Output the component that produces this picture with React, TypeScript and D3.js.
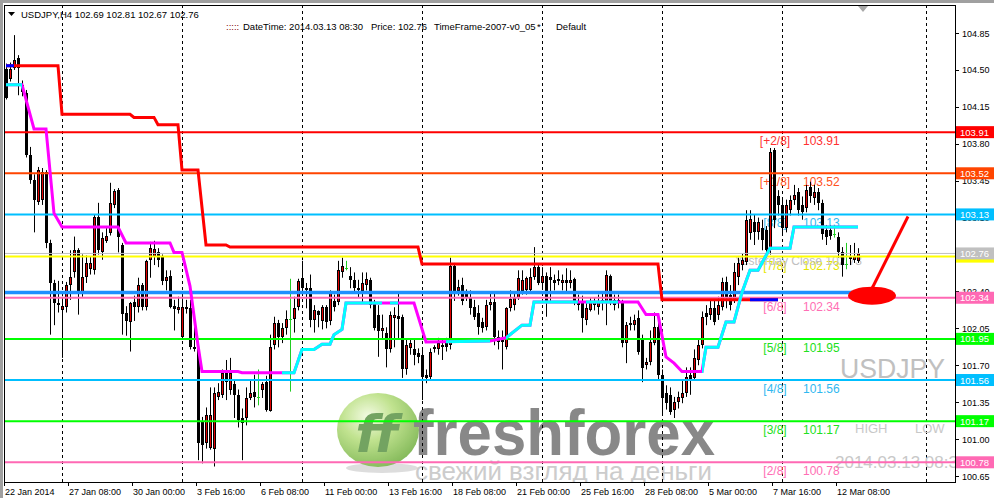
import React from 'react';
import * as d3 from 'd3';

// USDJPY H4, one row per bar: open, high, low, close
const candles: [number, number, number, number][] = [
  [104.51, 104.56, 104.22, 104.23], [104.41, 104.57, 104.39, 104.51], [104.52, 104.83, 104.5, 104.59], [104.61, 104.64, 104.26, 104.52],
  [104.36, 104.4, 104.25, 104.29], [104.28, 104.31, 103.67, 103.69], [103.69, 103.77, 103.42, 103.46], [103.46, 103.51, 102.96, 103.27],
  [103.25, 103.58, 103.22, 103.55], [103.27, 103.57, 103.22, 103.53], [103.53, 103.55, 102.81, 102.86], [102.86, 102.89, 101.99, 102.48],
  [102.48, 102.51, 102.08, 102.29], [102.29, 102.5, 102.2, 102.27], [102.22, 102.35, 101.77, 102.26], [102.25, 102.49, 102.2, 102.46],
  [102.46, 102.79, 102.32, 102.54], [102.58, 102.92, 102.53, 102.79], [102.79, 102.81, 102.18, 102.39], [102.39, 102.75, 102.35, 102.54],
  [102.54, 102.74, 102.48, 102.67], [102.61, 102.73, 102.56, 102.67], [102.6, 103.13, 102.56, 103.11], [103.11, 103.24, 102.75, 102.79],
  [102.77, 102.96, 102.7, 102.91], [102.88, 103.0, 102.86, 102.93], [102.95, 103.43, 102.93, 103.24], [103.22, 103.37, 103.19, 103.35],
  [103.36, 103.38, 102.77, 102.92], [102.84, 102.86, 101.99, 102.19], [102.2, 102.26, 101.98, 102.12], [102.11, 102.3, 101.83, 102.29],
  [102.3, 102.36, 102.12, 102.25], [102.25, 102.53, 102.2, 102.46], [102.46, 102.48, 102.22, 102.25], [102.25, 102.7, 102.22, 102.69],
  [102.7, 102.87, 102.53, 102.81], [102.73, 102.88, 102.65, 102.8], [102.77, 102.81, 102.63, 102.7], [102.73, 102.75, 102.46, 102.5],
  [102.5, 102.6, 102.41, 102.54], [102.55, 102.6, 102.24, 102.25], [102.26, 102.32, 102.03, 102.23], [102.22, 102.35, 102.19, 102.25],
  [101.97, 102.39, 101.94, 102.25], [102.23, 102.32, 102.19, 102.25], [102.24, 102.32, 101.85, 101.87], [101.87, 102.13, 101.83, 101.85],
  [101.85, 101.89, 100.8, 100.96], [101.16, 101.21, 100.77, 100.94], [100.96, 101.3, 100.91, 101.23], [100.92, 101.49, 100.9, 101.23],
  [100.91, 101.49, 100.74, 101.44], [101.4, 101.53, 101.37, 101.45], [101.42, 101.66, 101.39, 101.63], [101.63, 101.75, 101.37, 101.54],
  [101.47, 101.77, 101.42, 101.63], [101.52, 101.56, 101.2, 101.42], [101.42, 101.47, 101.11, 101.18], [101.2, 101.29, 100.8, 101.15],
  [101.2, 101.49, 101.13, 101.39], [101.39, 101.56, 101.37, 101.44], [101.45, 101.61, 101.3, 101.4], [101.4, 101.66, 101.32, 101.4],
  [101.47, 101.54, 101.39, 101.52], [101.54, 101.6, 101.26, 101.28], [101.27, 101.99, 101.26, 101.87], [101.89, 102.16, 101.85, 102.1],
  [102.1, 102.13, 101.87, 101.97], [101.97, 102.1, 101.91, 102.05], [102.05, 102.22, 101.99, 102.14], [102.14, 102.52, 101.45, 102.14],
  [102.14, 102.35, 102.01, 102.24], [102.25, 102.52, 102.22, 102.5], [102.53, 102.69, 102.36, 102.43], [102.43, 102.48, 102.24, 102.41],
  [102.43, 102.56, 102.06, 102.13], [102.13, 102.27, 102.01, 102.22], [102.21, 102.22, 102.06, 102.18], [102.12, 102.27, 102.04, 102.25],
  [102.25, 102.27, 102.05, 102.11], [102.12, 102.41, 102.08, 102.39], [102.31, 102.37, 102.21, 102.25], [102.3, 102.69, 102.27, 102.6],
  [102.58, 102.72, 102.53, 102.64], [102.62, 102.69, 102.6, 102.62], [102.55, 102.63, 102.43, 102.51], [102.51, 102.58, 102.39, 102.43],
  [102.43, 102.51, 102.34, 102.41], [102.4, 102.58, 102.29, 102.48], [102.46, 102.58, 102.41, 102.52], [102.51, 102.53, 102.24, 102.27],
  [102.29, 102.32, 102.03, 102.05], [102.18, 102.27, 101.78, 102.02], [102.02, 102.18, 101.94, 102.05], [102.01, 102.06, 101.68, 101.85],
  [101.85, 102.21, 101.82, 102.18], [102.15, 102.25, 101.87, 102.18], [102.17, 102.4, 101.94, 102.14], [102.16, 102.18, 101.58, 101.66],
  [101.66, 101.94, 101.61, 101.89], [101.86, 101.94, 101.8, 101.91], [101.85, 101.94, 101.7, 101.8], [101.82, 101.86, 101.72, 101.78],
  [101.8, 101.85, 101.37, 101.59], [101.61, 101.66, 101.53, 101.58], [101.59, 101.86, 101.56, 101.83], [101.85, 101.89, 101.82, 101.87],
  [101.85, 101.96, 101.8, 101.91], [101.89, 101.94, 101.75, 101.87], [101.91, 101.96, 101.83, 101.87], [101.89, 102.72, 101.85, 102.64],
  [102.64, 102.67, 102.31, 102.38], [102.4, 102.51, 102.36, 102.44], [102.46, 102.53, 102.27, 102.31], [102.39, 102.42, 102.31, 102.34],
  [102.34, 102.41, 102.18, 102.24], [102.25, 102.32, 102.13, 102.16], [102.2, 102.27, 101.99, 102.06], [102.11, 102.15, 102.01, 102.05],
  [102.06, 102.32, 102.03, 102.27], [102.27, 102.39, 102.22, 102.3], [102.3, 102.39, 101.89, 101.97], [101.97, 102.03, 101.85, 101.92],
  [101.95, 102.03, 101.66, 101.92], [101.87, 102.25, 101.85, 102.24], [102.24, 102.41, 102.21, 102.33], [102.27, 102.38, 102.22, 102.34],
  [102.34, 102.6, 102.32, 102.53], [102.4, 102.6, 102.37, 102.51], [102.41, 102.54, 102.37, 102.53], [102.41, 102.62, 102.39, 102.54],
  [102.54, 102.82, 102.51, 102.63], [102.63, 102.65, 102.46, 102.48], [102.48, 102.63, 102.43, 102.55], [102.55, 102.58, 102.16, 102.3],
  [102.54, 102.63, 102.3, 102.51], [102.51, 102.56, 102.41, 102.48], [102.52, 102.6, 102.46, 102.5], [102.48, 102.56, 102.41, 102.51],
  [102.51, 102.62, 102.39, 102.48], [102.48, 102.6, 102.43, 102.51], [102.52, 102.53, 102.27, 102.3], [102.3, 102.37, 102.22, 102.27],
  [102.3, 102.36, 102.01, 102.15], [102.13, 102.29, 102.08, 102.24], [102.22, 102.34, 102.21, 102.3], [102.27, 102.34, 102.22, 102.3],
  [102.25, 102.37, 102.18, 102.3], [102.32, 102.39, 102.22, 102.29], [102.3, 102.6, 102.08, 102.56], [102.55, 102.56, 102.27, 102.3],
  [102.32, 102.37, 102.22, 102.27], [102.32, 102.37, 102.24, 102.29], [102.3, 102.32, 101.87, 101.91], [101.91, 102.11, 101.72, 102.08],
  [102.1, 102.16, 102.03, 102.08], [102.08, 102.18, 102.03, 102.13], [102.15, 102.22, 101.8, 101.83], [101.94, 101.99, 101.54, 101.67],
  [101.7, 101.77, 101.66, 101.73], [101.73, 102.03, 101.7, 101.92], [101.91, 102.2, 101.89, 102.06], [102.06, 102.15, 101.56, 101.61],
  [101.61, 101.66, 101.23, 101.39], [101.44, 101.51, 101.28, 101.34], [101.42, 101.49, 101.23, 101.26], [101.28, 101.4, 101.2, 101.35],
  [101.35, 101.45, 101.29, 101.4], [101.39, 101.56, 101.34, 101.44], [101.44, 101.68, 101.4, 101.59], [101.61, 101.68, 101.42, 101.56],
  [101.58, 101.85, 101.56, 101.77], [101.75, 101.94, 101.7, 101.89], [101.89, 102.21, 101.86, 102.16], [102.2, 102.27, 102.08, 102.16],
  [102.18, 102.32, 102.13, 102.24], [102.24, 102.32, 102.08, 102.11], [102.18, 102.35, 102.13, 102.27], [102.25, 102.53, 102.22, 102.49],
  [102.49, 102.54, 102.24, 102.35], [102.37, 102.46, 102.22, 102.27], [102.32, 102.67, 102.29, 102.58], [102.54, 102.72, 102.46, 102.67],
  [102.65, 102.76, 102.6, 102.7], [102.68, 103.17, 102.65, 103.08], [102.95, 103.17, 102.89, 103.09], [103.06, 103.13, 102.84, 102.96],
  [102.96, 103.1, 102.89, 103.06], [103.0, 103.08, 102.79, 102.89], [102.98, 103.02, 102.72, 102.79], [102.79, 103.76, 102.75, 103.72],
  [103.74, 103.76, 103.0, 103.08], [103.3, 103.36, 103.12, 103.22], [103.22, 103.27, 102.94, 103.0], [103.0, 103.27, 102.96, 103.22],
  [103.17, 103.31, 103.12, 103.27], [103.27, 103.41, 103.22, 103.31], [103.34, 103.38, 103.12, 103.17], [103.22, 103.3, 103.08, 103.15],
  [103.19, 103.41, 103.15, 103.36], [103.39, 103.44, 103.24, 103.3], [103.29, 103.41, 103.22, 103.34], [103.34, 103.38, 103.17, 103.24],
  [103.24, 103.27, 102.89, 102.94], [102.98, 103.03, 102.84, 102.92], [102.98, 103.03, 102.89, 102.93], [102.94, 103.03, 102.91, 102.94],
  [102.92, 102.96, 102.72, 102.77], [102.77, 102.82, 102.54, 102.65], [102.66, 102.86, 102.61, 102.66], [102.74, 102.84, 102.65, 102.71],
  [102.7, 102.86, 102.67, 102.74], [102.69, 102.81, 102.67, 102.76],
];

const timeLabels = [
  '22 Jan 2014', '27 Jan 08:00', '30 Jan 00:00', '3 Feb 16:00', '6 Feb 08:00', '11 Feb 00:00', '13 Feb 16:00',
  '18 Feb 08:00', '21 Feb 00:00', '25 Feb 16:00', '28 Feb 08:00', '5 Mar 00:00', '7 Mar 16:00', '12 Mar 08:00',
];
const barsPerLabel = 16;
const priceTicks = [104.85, 104.5, 104.15, 103.8, 103.45, 103.1, 102.75, 102.4, 102.05, 101.7, 101.35, 101.0, 100.65];
const hiddenTicks = [102.75]; // covered by the bid label
const gridBars = [14, 44, 74, 104, 134, 164, 194, 230];

// Murrey math levels
const levelTags = ['[+2/8]', '[+1/8]', '[8/8]', '[7/8]', '[6/8]', '[5/8]', '[4/8]', '[3/8]', '[2/8]'];
const levelValues = [103.91, 103.52, 103.13, 102.73, 102.34, 101.95, 101.56, 101.17, 100.78];
const levelColors = ['#FF0000', '#FF4500', '#00BFFF', '#FFFF00', '#FF69B4', '#00FF00', '#00BFFF', '#00FF00', '#FF69B4'];
const levelTextColors = ['#FF3030', '#FF5020', '#30B8F0', '#E6E600', '#FF6EB4', '#20E020', '#30B8F0', '#20E020', '#FF6EB4'];

const bidPrice = 102.76;
const pivotPrice = 102.39;
const yesterdayClose = 102.73;

const axisBoxValues = [103.91, 103.52, 103.13, 102.73, 102.76, 102.34, 101.95, 101.56, 101.17, 100.78];
const axisBoxColors = ['#FF0000', '#FF4500', '#00BFFF', '#FFFF00', '#C0C0C0', '#FF69B4', '#00FF00', '#00BFFF', '#00FF00', '#FF69B4'];
const axisBoxText = [true, true, true, false, true, true, true, true, true, true];

// trailing step lines: [bar, price]
const upperLine: [number, number][] = [
  [0, 104.54], [13, 104.54], [14, 104.08], [31, 104.08], [32, 104.05], [37, 104.05], [38, 103.98], [43, 103.98],
  [44, 103.55], [48, 103.55], [50, 102.84], [55, 102.84], [56, 102.82], [103, 102.82], [104, 102.66], [163, 102.66],
  [164, 102.32], [193, 102.32],
];
const upperBlue: [number, number][] = [[0, 2], [186, 193]];

const lowerLine: [number, number][] = [
  [0, 104.36], [4, 104.36], [7, 103.94], [10, 103.94], [12, 103.14], [14, 103.01], [28, 103.01], [30, 102.86],
  [41, 102.86], [42, 102.77], [44, 102.77], [46, 102.45], [48, 101.89], [49, 101.64], [58, 101.64], [59, 101.63],
  [72, 101.63], [74, 101.85], [77, 101.85], [79, 101.9], [81, 101.9], [82, 101.99], [84, 102.04], [85, 102.29],
  [102, 102.29], [105, 101.92], [121, 101.93], [125, 101.96], [129, 102.08], [131, 102.08], [132, 102.3],
  [158, 102.3], [160, 102.18], [163, 102.18], [165, 101.78], [167, 101.72], [169, 101.64], [174, 101.64],
  [175, 101.87], [178, 101.87], [180, 102.11], [182, 102.11], [184, 102.39], [186, 102.6], [188, 102.6],
  [191, 102.81], [196, 102.81], [197, 103.01], [213, 103.01],
];
const lowerCyan: [number, number][] = [[0, 4], [69, 94], [96, 98], [110, 121], [125, 143], [145, 153], [174, 213]];

export default function App() {
  const L = 4, R = 955, T = 5, B = 482;
  const x = d3.scaleLinear().domain([0, 236]).range([6, 950]);
  const y = d3.scaleLinear().domain([100.65, 104.85]).range([476, 33]);
  const font = '"Liberation Sans", Arial, sans-serif';
  const line = d3.line<[number, number]>().x(d => x(d[0])).y(d => y(d[1]));
  const lastBar = candles.length - 1;

  const segClip = (id: string, segs: [number, number][]) =>
    segs.map(([a, b], k) => (
      <clipPath id={`${id}${k}`} key={k}>
        <rect x={a === 0 ? L : x(a)} y={T} width={(b === lastBar ? x(b) + 3 : x(b)) - (a === 0 ? L : x(a))} height={B - T} />
      </clipPath>
    ));

  return (
    <svg width={994} height={498} style={{ position: 'absolute', left: 0, top: 0, background: '#fff' }} fontFamily={font}>
      <defs>
        <clipPath id="plot"><rect x={L + 1} y={T + 1} width={R - L - 1} height={B - T - 1} /></clipPath>
        {segClip('ub', upperBlue)}
        {segClip('lc', lowerCyan)}
        <radialGradient id="ball" cx="38%" cy="32%" r="72%">
          <stop offset="0" stopColor="#F2FADF" />
          <stop offset="0.45" stopColor="#B6DE7C" />
          <stop offset="1" stopColor="#6FAE3E" />
        </radialGradient>
      </defs>
      <rect x={0} y={0} width={994} height={498} fill="#fff" />
      <line x1={0} y1={1.5} x2={994} y2={1.5} stroke="#A0A0A0" strokeWidth={3} />
      <line x1={1.5} y1={0} x2={1.5} y2={498} stroke="#A0A0A0" strokeWidth={3} />

      <g clipPath="url(#plot)">
        {/* watermark */}
        <g opacity={0.85}>
          <ellipse cx={382} cy={468} rx={36} ry={5} fill="#D8D8D8" />
          <ellipse cx={378} cy={430} rx={41} ry={37} fill="url(#ball)" />
          <text x={377} y={452} textAnchor="middle" fontSize={52} fontWeight="bold" fontStyle="italic" fill="#5B9446" fontFamily='"DejaVu Sans", sans-serif'>ff</text>
          <text x={413} y={455} fontSize={64} fontWeight="bold" fill="#747474" textLength={302} lengthAdjust="spacingAndGlyphs">freshforex</text>
          <text x={415} y={480} fontSize={26} fill="#C4C4C4" textLength={297} lengthAdjust="spacingAndGlyphs">свежий взгляд на деньги</text>
        </g>

        {gridBars.map(g => (
          <line key={g} x1={Math.round(x(g)) + 0.5} x2={Math.round(x(g)) + 0.5} y1={T} y2={B} stroke="#000" strokeDasharray="3,3" />
        ))}

        {/* info texts */}
        <text x={840} y={378} fontSize={27} fill="#C0C0C0" textLength={105} lengthAdjust="spacingAndGlyphs">USDJPY</text>
        <text x={855} y={433} fontSize={13} fill="#C8C8C8">HIGH</text>
        <text x={915} y={433} fontSize={13} fill="#C8C8C8">LOW</text>
        <text x={835} y={468} fontSize={17} fill="#C8C8C8">2014.03.13 08:30</text>

        {levelValues.map((v, k) => (
          <g key={k}>
            <text x={x(192.25)} y={y(v) + 13} fontSize={12} textAnchor="middle" fill={levelTextColors[k]}>{levelTags[k]}</text>
            <text x={x(199.25)} y={y(v) + 13} fontSize={12} fill={levelTextColors[k]}>{v.toFixed(2)}</text>
          </g>
        ))}
        <text x={x(182.25)} y={y(yesterdayClose) + 8} fontSize={12} fill="#C0C0C0">Yesterday Close {yesterdayClose.toFixed(2)}</text>

        {/* candles */}
        {candles.map(([o, h, l, c], i) => {
          const cx = Math.round(x(i));
          if (o === c) {
            return (
              <g key={i} fill="#22CC22">
                <rect x={cx} y={y(h)} width={1} height={y(l) - y(h)} />
                <rect x={cx - 1} y={Math.round(y(c))} width={3} height={1} />
              </g>
            );
          }
          const top = Math.round(y(Math.max(o, c)));
          const bot = Math.round(y(Math.min(o, c)));
          const hgt = Math.max(1, bot - top);
          return (
            <g key={i}>
              <rect x={cx} y={y(h)} width={1} height={y(l) - y(h)} fill="#000" />
              <rect x={cx - 1} y={top} width={3} height={hgt} fill="#000" />
              {c > o && hgt > 2 && <rect x={cx} y={top + 1} width={1} height={hgt - 2} fill="#E00000" />}
            </g>
          );
        })}

        {/* levels */}
        {levelValues.map((v, k) => (
          <line key={k} x1={L} x2={R} y1={y(v)} y2={y(v)} stroke={levelColors[k]} strokeWidth={2} />
        ))}
        <line x1={L} x2={R} y1={y(bidPrice)} y2={y(bidPrice)} stroke="#C0C0C0" strokeWidth={1} />
        <line x1={L} x2={x(lastBar) + 2} y1={y(pivotPrice)} y2={y(pivotPrice)} stroke="#1E90FF" strokeWidth={3.5} />

        {/* step lines */}
        <path d={line(upperLine) || ''} fill="none" stroke="#FF0000" strokeWidth={3} />
        {upperBlue.map((_, k) => (
          <path key={k} d={line(upperLine) || ''} fill="none" stroke="#0000FF" strokeWidth={3} clipPath={`url(#ub${k})`} />
        ))}
        <path d={line(lowerLine) || ''} fill="none" stroke="#FF00FF" strokeWidth={3} />
        {lowerCyan.map((_, k) => (
          <path key={k} d={line(lowerLine) || ''} fill="none" stroke="#00FFFF" strokeWidth={3} clipPath={`url(#lc${k})`} />
        ))}

        {/* arrow */}
        <line x1={x(225.5)} y1={y(103.11)} x2={x(216)} y2={y(102.39)} stroke="#FF0000" strokeWidth={3} />
        <ellipse cx={x(216.5)} cy={y(102.36)} rx={24} ry={9} fill="#FF0000" />
      </g>

      {/* frame */}
      <rect x={L + 0.5} y={T + 0.5} width={R - L} height={B - T} fill="none" stroke="#000" />
      <polygon points={`${x(213)},${T + 1} ${x(213) + 10},${T + 1} ${x(213) + 5},${T + 7}`} fill="#A8A8A8" />

      {/* header */}
      <polygon points="8,12 15,12 11.5,16" fill="#000" />
      <text x={21} y={18} fontSize={9.5} fill="#000">USDJPY,H4  102.69 102.81 102.67 102.76</text>
      <text x={226} y={30} fontSize={9.5} fill="#800000">:::::</text>
      <text x={243} y={30} fontSize={9.5} fill="#000">DateTime: 2014.03.13 08:30</text>
      <text x={371} y={30} fontSize={9.5} fill="#000">Price: 102.76</text>
      <text x={434} y={30} fontSize={9.5} fill="#000">TimeFrame-2007-v0_05</text>
      <text x={537} y={30} fontSize={9.5} fill="#000">*</text>
      <text x={556} y={30} fontSize={9.5} fill="#000">Default</text>

      {/* price axis */}
      {priceTicks.map(p => (
        <g key={p}>
          <line x1={R} x2={R + 4} y1={Math.round(y(p)) + 0.5} y2={Math.round(y(p)) + 0.5} stroke="#000" />
          {!hiddenTicks.includes(p) && <text x={962} y={y(p) + 3.5} fontSize={9} fill="#000">{p.toFixed(2)}</text>}
        </g>
      ))}
      {axisBoxValues.map((v, k) => (
        <g key={k}>
          <rect x={R + 1} y={y(v) - 6} width={38} height={12} fill={axisBoxColors[k]} />
          {axisBoxText[k] && <text x={960} y={y(v) + 3.5} fontSize={9.5} fill="#fff">{v.toFixed(2)}</text>}
        </g>
      ))}

      {/* time axis */}
      {timeLabels.map((t, k) => {
        const tx = Math.round(x(k * barsPerLabel)) - 2;
        return (
          <g key={t}>
            <line x1={tx + 0.5} x2={tx + 0.5} y1={B} y2={B + 4} stroke="#000" />
            <text x={tx + 1} y={494.5} fontSize={9} fill="#000">{t}</text>
          </g>
        );
      })}
    </svg>
  );
}
